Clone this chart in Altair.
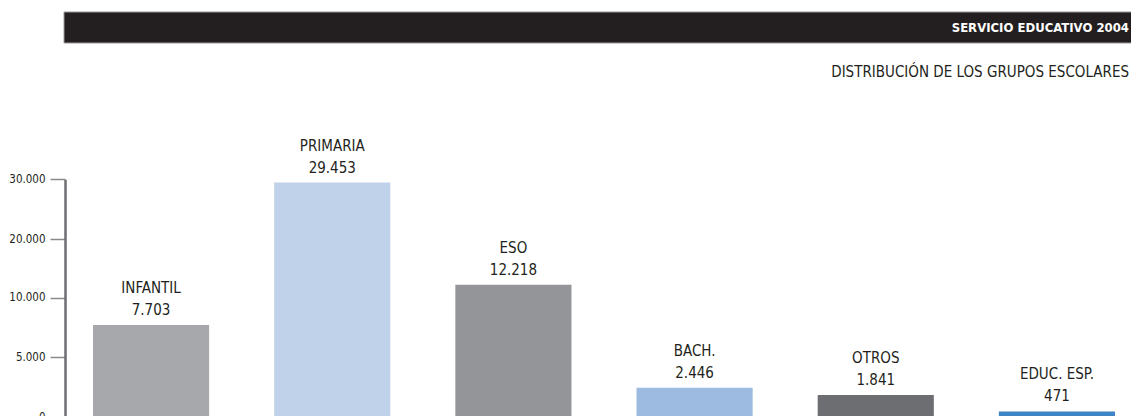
import altair as alt
import pandas as pd

categories = ["INFANTIL", "PRIMARIA", "ESO", "BACH.", "OTROS", "EDUC. ESP."]
values = [7703, 29453, 12218, 2446, 1841, 471]
value_labels = ["7.703", "29.453", "12.218", "2.446", "1.841", "471"]
colors = ["#a7a8ab", "#c0d1ea", "#939598", "#9dbae0", "#6d6e71", "#3f84c6"]
tick_values = [0, 5000, 10000, 20000, 30000]
title_text = "SERVICIO EDUCATIVO 2004"
subtitle_text = "DISTRIBUCIÓN DE LOS GRUPOS ESCOLARES"

FONT = "DejaVu Sans Condensed, Liberation Sans Narrow, sans-serif"

df = pd.DataFrame({"cat": categories, "value": values, "vlabel": value_labels, "color": colors})

W, H = 1066, 405

x = alt.X("cat:N", sort=categories, axis=None,
          scale=alt.Scale(range=[28, 1050], paddingInner=0.359, paddingOuter=0))
y_scale = alt.Scale(domain=tick_values, range=[H, 345.3, 285.7, 227.3, 167.3], nice=False, zero=False)
y = alt.Y("value:Q", scale=y_scale,
          axis=alt.Axis(values=tick_values, title=None, grid=False,
                        labelExpr="replace(format(datum.value, ','), ',', '.')",
                        labelFont=FONT, labelFontSize=11.5, labelColor="#231f20",
                        labelPadding=5, tickSize=15, tickColor="#8a8a8a", tickWidth=1.5,
                        domainColor="#6d6e71", domainWidth=2.5))

bars = alt.Chart(df).mark_bar().encode(
    x=x, y=y, color=alt.Color("color:N", scale=None)
)

val_text = alt.Chart(df).mark_text(font=FONT, fontSize=15, color="#231f20",
                                   baseline="alphabetic", dy=-10).encode(
    x=x, y=alt.Y("value:Q", scale=y_scale), text="vlabel:N")
name_text = alt.Chart(df).mark_text(font=FONT, fontSize=15, color="#231f20",
                                    baseline="alphabetic", dy=-32).encode(
    x=x, y=alt.Y("value:Q", scale=y_scale), text="cat:N")

band_df = pd.DataFrame({"t": [title_text]})
band = alt.Chart(band_df).mark_rect(color="#231f20", stroke="#9a9a9a", strokeWidth=1).encode(
    x=alt.value(-1), x2=alt.value(W + 2), y=alt.value(0), y2=alt.value(31))
title = alt.Chart(band_df).mark_text(font=FONT, fontSize=13, fontWeight="bold", color="white",
                                     align="right", baseline="middle").encode(
    x=alt.value(1064), y=alt.value(16), text="t:N")
sub_df = pd.DataFrame({"t": [subtitle_text]})
subtitle = alt.Chart(sub_df).mark_text(font=FONT, fontSize=15, color="#231f20",
                                       align="right", baseline="middle").encode(
    x=alt.value(1064), y=alt.value(60), text="t:N")

chart = alt.layer(bars, val_text, name_text, band, title, subtitle).properties(
    width=W, height=H,
    padding={"left": 57, "top": 4, "right": 0, "bottom": 20},
    autosize=alt.AutoSizeParams(type="none"),
).configure_view(stroke=None)

chart.save("out.html", embed_options={"renderer": "svg", "actions": False})
